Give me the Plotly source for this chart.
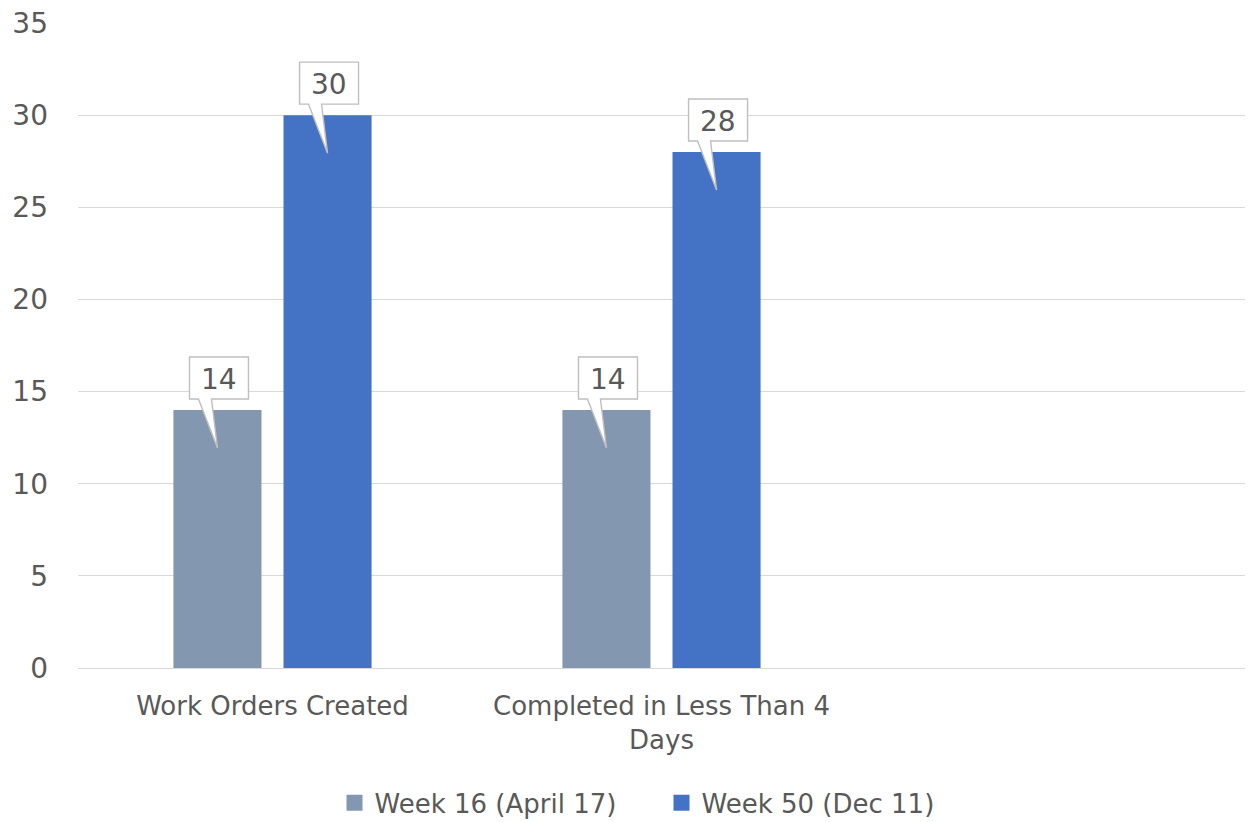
import plotly.graph_objects as go

# Chart data
categories = ["Work Orders Created", "Completed in Less Than 4<br>Days", ""]
series_names = ["Week 16 (April 17)", "Week 50 (Dec 11)"]
week16 = [14, 14, None]
week50 = [30, 28, None]
y_ticks = [0, 5, 10, 15, 20, 25, 30, 35]

colors = ["#8497B0", "#4472C4"]
text_color = "#595959"
font_family = "DejaVu Sans, Verdana, sans-serif"

BARGAP = 0.434
BARGROUPGAP = 0.2
slot_offset = (1 - BARGAP) / 4  # half of one bar slot, in category units

x_pos = list(range(len(categories)))

fig = go.Figure()
for name, vals, col in zip(series_names, [week16, week50], colors):
    fig.add_trace(go.Bar(
        x=x_pos, y=vals, name=name, showlegend=False,
        marker=dict(color=col, line=dict(width=0)),
    ))

# Legend entries with larger square swatches
for name, col in zip(series_names, colors):
    fig.add_trace(go.Scatter(
        x=[None], y=[None], mode="markers", name=name,
        marker=dict(symbol="square", size=16, color=col),
    ))

# Callout data labels: white box with a pointer down onto the bar
callout_path = "M -28,11 L -19,11 L 0,-38 L -6,11 L 31,11 L 31,53 L -28,53 Z"
for s_idx, vals in enumerate([week16, week50]):
    shift = -slot_offset if s_idx == 0 else slot_offset
    for i, v in enumerate(vals):
        if v is None:
            continue
        xc = x_pos[i] + shift
        fig.add_shape(
            type="path", xref="x", yref="y",
            xsizemode="pixel", ysizemode="pixel",
            xanchor=xc, yanchor=v, path=callout_path,
            fillcolor="white", line=dict(color="#BFBFBF", width=1.4),
            layer="above",
        )
        fig.add_annotation(
            x=xc, y=v, xref="x", yref="y", text=str(v), showarrow=False,
            yshift=31, xshift=1.5, yanchor="middle",
            font=dict(family=font_family, size=28, color=text_color),
        )

fig.update_layout(
    width=1250, height=822,
    margin=dict(l=78, r=5, t=23, b=154, autoexpand=False),
    paper_bgcolor="white", plot_bgcolor="white",
    barmode="group", bargap=BARGAP, bargroupgap=BARGROUPGAP,
    font=dict(family=font_family, color=text_color, size=26),
    showlegend=True,
    legend=dict(
        orientation="h", x=0.5, xanchor="center", xref="paper",
        y=-0.209, yanchor="middle",
        font=dict(size=26, color=text_color),
        itemwidth=30, traceorder="normal", entrywidth=282,
    ),
    xaxis=dict(
        range=[-0.5, len(categories) - 0.5],
        tickmode="array", tickvals=x_pos, ticktext=categories,
        showgrid=False, zeroline=False, showline=False, ticks="",
        ticklabelstandoff=20,
        tickfont=dict(size=26, color=text_color),
    ),
    yaxis=dict(
        range=[0, 35], tickmode="array", tickvals=y_ticks,
        showgrid=True, gridcolor="#D9D9D9", gridwidth=1.3,
        zeroline=True, zerolinecolor="#D9D9D9", zerolinewidth=1.3,
        showline=False, ticks="", ticklabelstandoff=29,
        tickfont=dict(size=28, color=text_color),
    ),
)

fig.write_html("out.html")
